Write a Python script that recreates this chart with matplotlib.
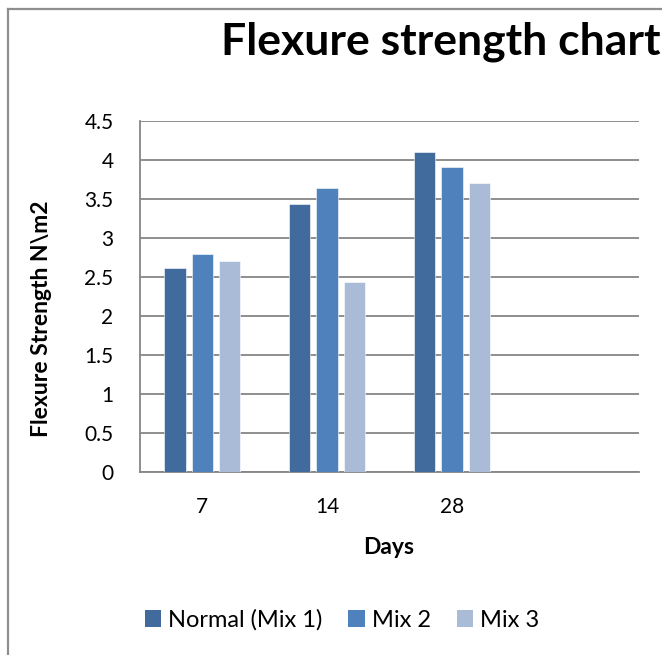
import matplotlib
matplotlib.use("Agg")
import matplotlib.pyplot as plt
from matplotlib.patches import Patch
from matplotlib.lines import Line2D
import numpy as np

plt.rcParams['font.family'] = ['Lato', 'DejaVu Sans']

categories = ["7", "14", "28", ""]
series_names = ["Normal (Mix 1)", "Mix 2", "Mix 3"]
normal_mix1 = [2.61, 3.43, 4.10]
mix2 = [2.80, 3.64, 3.91]
mix3 = [2.70, 2.43, 3.71]
colors = ["#416B9C", "#4F81BD", "#AABBD8"]
yticks = [0, 0.5, 1, 1.5, 2, 2.5, 3, 3.5, 4, 4.5]
ytick_labels = ["0", "0.5", "1", "1.5", "2", "2.5", "3", "3.5", "4", "4.5"]

W, H = 662, 655
fig = plt.figure(figsize=(W / 100, H / 100), dpi=100)

# outer chart border (left and top edges visible)
bx, by = 7.5 / W, 1 - 8.5 / H
fig.add_artist(Line2D([bx, bx], [-0.05, by], transform=fig.transFigure,
                      color="#8E8E8E", linewidth=1.6))
fig.add_artist(Line2D([bx, 1.05], [by, by], transform=fig.transFigure,
                      color="#8E8E8E", linewidth=1.6))

ax = fig.add_axes([140 / W, 1 - 472 / H, (639 - 140) / W, (472 - 121) / H])

x = np.arange(len(categories))
width = 0.171
offset = 0.22
all_series = [normal_mix1, mix2, mix3]
for i, (vals, name, c) in enumerate(zip(all_series, series_names, colors)):
    xs = x[:len(vals)] + (i - 1) * offset
    ax.bar(xs, vals, width=width, color=c, label=name, zorder=3,
           edgecolor="white", linewidth=0.4)

ax.set_xlim(-0.5, len(categories) - 0.5)
ax.set_ylim(0, 4.5)
ax.set_yticks(yticks)
ax.set_yticklabels(ytick_labels)
ax.set_xticks(x)
ax.set_xticklabels(categories)
ax.tick_params(axis='both', length=0, labelsize=15, colors="black")
ax.tick_params(axis='y', pad=19)
ax.tick_params(axis='x', pad=18)
ax.grid(axis='y', color="#868686", linewidth=1.3, zorder=0)
ax.set_axisbelow(True)
for s in ["top", "right"]:
    ax.spines[s].set_visible(False)
for s in ["left", "bottom"]:
    ax.spines[s].set_color("#868686")
    ax.spines[s].set_linewidth(1.3)

fig.text(441 / W, 1 - 42 / H, "Flexure strength chart", ha="center", va="center",
         fontsize=32, fontweight="bold")
fig.text(42 / W, 1 - 319 / H, "Flexure Strength N\\m2", rotation=90,
         ha="center", va="center", fontsize=16.5, fontweight="bold")
fig.text(389 / W, 1 - 547 / H, "Days", ha="center", va="center",
         fontsize=16.5, fontweight="bold")

handles = [Patch(facecolor=c, edgecolor="none") for c in colors]
fig.legend(handles, series_names, loc="center",
           bbox_to_anchor=(342 / W, 1 - 620 / H), ncol=3, frameon=False,
           fontsize=17, handlelength=0.68, handleheight=0.68,
           handletextpad=0.3, columnspacing=1.1)

fig.savefig("out.png", dpi=100)
